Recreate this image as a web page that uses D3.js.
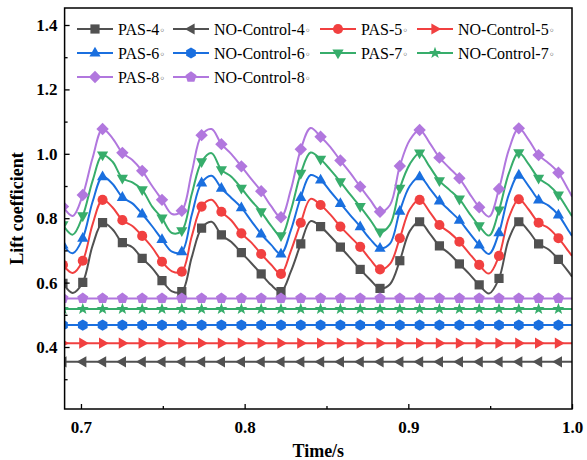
<!DOCTYPE html>
<html><head><meta charset="utf-8">
<script src="https://cdn.jsdelivr.net/npm/d3@7"></script>
<style>body{margin:0;background:#fff}</style>
</head><body>
<svg id="chart" width="587" height="460"></svg>
<script>
// ---------- data ----------
const time = [0.6890,0.6950,0.7011,0.7071,0.7132,0.7192,0.7253,0.7314,0.7374,0.7435,0.7495,0.7556,0.7616,0.7677,0.7737,0.7798,0.7858,0.7919,0.7980,0.8040,0.8101,0.8161,0.8222,0.8282,0.8343,0.8403,0.8464,0.8524,0.8585,0.8646,0.8706,0.8767,0.8827,0.8888,0.8948,0.9009,0.9069,0.9130,0.9190,0.9251,0.9312,0.9372,0.9433,0.9493,0.9554,0.9614,0.9675,0.9735,0.9796,0.9857,0.9917,0.9978,1.0000];
const pas4 = [0.598,0.568,0.601,0.715,0.786,0.766,0.724,0.710,0.675,0.645,0.606,0.573,0.572,0.679,0.769,0.789,0.748,0.726,0.693,0.661,0.627,0.593,0.572,0.634,0.720,0.791,0.774,0.744,0.710,0.676,0.641,0.609,0.582,0.595,0.668,0.760,0.789,0.753,0.714,0.690,0.658,0.627,0.593,0.566,0.613,0.735,0.789,0.760,0.720,0.703,0.672,0.634,0.618];
const pas5 = [0.655,0.630,0.668,0.781,0.857,0.834,0.794,0.776,0.745,0.709,0.665,0.635,0.634,0.744,0.836,0.857,0.820,0.793,0.753,0.725,0.689,0.656,0.627,0.698,0.786,0.860,0.841,0.811,0.774,0.742,0.711,0.672,0.641,0.658,0.738,0.827,0.857,0.820,0.779,0.756,0.727,0.691,0.655,0.628,0.683,0.802,0.859,0.827,0.786,0.769,0.738,0.698,0.683];
const pas6 = [0.717,0.691,0.738,0.851,0.929,0.907,0.865,0.846,0.813,0.775,0.734,0.696,0.696,0.811,0.910,0.932,0.893,0.863,0.833,0.792,0.751,0.718,0.689,0.762,0.865,0.934,0.919,0.883,0.846,0.809,0.774,0.735,0.707,0.721,0.822,0.900,0.929,0.893,0.854,0.824,0.794,0.755,0.717,0.689,0.755,0.873,0.934,0.900,0.857,0.839,0.810,0.762,0.745];
const pas7 = [0.779,0.749,0.807,0.916,0.996,0.976,0.924,0.911,0.888,0.836,0.800,0.754,0.761,0.875,0.975,1.002,0.950,0.929,0.893,0.855,0.820,0.777,0.745,0.824,0.939,1.004,0.983,0.950,0.913,0.873,0.836,0.795,0.757,0.780,0.893,0.968,1.002,0.960,0.916,0.888,0.859,0.816,0.776,0.746,0.825,0.939,1.003,0.968,0.924,0.903,0.872,0.824,0.806];
const pas8 = [0.836,0.807,0.872,0.987,1.077,1.049,1.003,0.981,0.947,0.900,0.857,0.813,0.823,0.943,1.058,1.077,1.030,0.999,0.961,0.922,0.884,0.838,0.803,0.888,1.014,1.080,1.053,1.021,0.979,0.940,0.898,0.857,0.820,0.841,0.962,1.043,1.074,1.034,0.988,0.956,0.924,0.878,0.834,0.805,0.891,1.012,1.079,1.043,0.996,0.971,0.941,0.888,0.867];
const noControlLevels = [0.354, 0.412, 0.468, 0.518, 0.551]; // 4°,5°,6°,7°,8°
const angles = ["4", "5", "6", "7", "8"];
const xTicks = [0.7, 0.8, 0.9, 1.0];
const xMinorTicks = [0.75, 0.85, 0.95];
const yTicks = [0.4, 0.6, 0.8, 1.0, 1.2, 1.4];
const yMinorTicks = [0.3, 0.5, 0.7, 0.9, 1.1, 1.3];
const xLabel = "Time/s";
const yLabel = "Lift coefficient";

// ---------- styling ----------
const colors = ["#515151", "#f14040", "#1a6fdf", "#37ad6b", "#b177de"];
const pasShapes = ["square", "circle", "triangleUp", "triangleDown", "diamond"];
const ncShapes = ["triangleLeft", "triangleRight", "hexagon", "star", "pentagon"];
const pasSeries = [pas4, pas5, pas6, pas7, pas8];

const W = 587, H = 460;
const L = 64.6, R = 572, T = 8, B = 409;
const serif = "'Liberation Serif','Times New Roman',serif";

const svg = d3.select("#chart");
const x = d3.scaleLinear().domain([0.69, 1.0]).range([L, R]);
const y = d3.scaleLinear().domain([0.2075, 1.4528]).range([B, T]);

function polyPath(pts){ return "M" + pts.map(p => p[0].toFixed(2) + "," + p[1].toFixed(2)).join("L") + "Z"; }
function regular(n, r, rot){
  const pts = [];
  for (let i = 0; i < n; i++){ const a = rot + i * 2 * Math.PI / n; pts.push([r * Math.cos(a), r * Math.sin(a)]); }
  return polyPath(pts);
}
function markerPath(type){
  switch(type){
    case "square": return polyPath([[-4.6,-4.6],[4.6,-4.6],[4.6,4.6],[-4.6,4.6]]);
    case "circle": return d3.symbol(d3.symbolCircle, 80)();
    case "triangleUp": return polyPath([[0,-6.2],[5.6,3.6],[-5.6,3.6]]);
    case "triangleDown": return polyPath([[0,6.2],[5.6,-3.6],[-5.6,-3.6]]);
    case "triangleLeft": return polyPath([[-6.2,0],[3.6,-5.6],[3.6,5.6]]);
    case "triangleRight": return polyPath([[6.2,0],[-3.6,-5.6],[-3.6,5.6]]);
    case "diamond": return polyPath([[0,-6.2],[6.2,0],[0,6.2],[-6.2,0]]);
    case "hexagon": return regular(6, 5.6, Math.PI / 6);
    case "pentagon": return regular(5, 5.8, -Math.PI / 2);
    case "star": {
      const pts = [];
      for (let i = 0; i < 10; i++){ const r = i % 2 ? 2.6 : 6.3; const a = -Math.PI/2 + i * Math.PI / 5; pts.push([r*Math.cos(a), r*Math.sin(a)]); }
      return polyPath(pts);
    }
  }
}

// clip
svg.append("defs").append("clipPath").attr("id", "clip")
  .append("rect").attr("x", L).attr("y", T).attr("width", R - L).attr("height", B - T);

const plot = svg.append("g").attr("clip-path", "url(#clip)");
const line = d3.line().x(d => x(d[0])).y(d => y(d[1])).curve(d3.curveCatmullRom.alpha(0.5));
const markerIdx = time.map((t, i) => i).filter(i => i % 2 === 0 && i < time.length - 1);

const seriesList = [];
angles.forEach((a, k) => {
  seriesList.push({name: "PAS-" + a, color: colors[k], shape: pasShapes[k], values: pasSeries[k]});
  seriesList.push({name: "NO-Control-" + a, color: colors[k], shape: ncShapes[k], values: time.map(() => noControlLevels[k])});
});

seriesList.forEach(s => {
  const pts = time.map((t, i) => [t, s.values[i]]);
  plot.append("path").attr("d", line(pts)).attr("fill", "none")
    .attr("stroke", s.color).attr("stroke-width", 2);
  const mp = markerPath(s.shape);
  plot.append("g").selectAll("path").data(markerIdx).join("path")
    .attr("d", mp).attr("fill", s.color)
    .attr("transform", i => `translate(${x(time[i])},${y(s.values[i])})`);
});

// axes
const xAxis = svg.append("g").attr("transform", `translate(0,${B})`)
  .call(d3.axisBottom(x).tickValues(xTicks).tickFormat(d3.format(".1f")).tickSize(-5).tickPadding(12));
const xMinor = svg.append("g").attr("transform", `translate(0,${B})`)
  .call(d3.axisBottom(x).tickValues(xMinorTicks).tickFormat("").tickSize(-3));
const yAxis = svg.append("g").attr("transform", `translate(${L},0)`)
  .call(d3.axisLeft(y).tickValues(yTicks).tickFormat(d3.format(".1f")).tickSize(-5).tickPadding(7));
const yMinor = svg.append("g").attr("transform", `translate(${L},0)`)
  .call(d3.axisLeft(y).tickValues(yMinorTicks).tickFormat("").tickSize(-3));
[xAxis, xMinor, yAxis, yMinor].forEach(g => {
  g.select(".domain").remove();
  g.selectAll("line").attr("stroke", "#000").attr("stroke-width", 1.3);
  g.selectAll("text").attr("font-family", serif).attr("font-weight", "bold").attr("font-size", 17).attr("fill", "#000");
});

// frame
svg.append("rect").attr("x", L).attr("y", T).attr("width", R - L).attr("height", B - T)
  .attr("fill", "none").attr("stroke", "#000").attr("stroke-width", 1.5);

// axis titles
svg.append("text").attr("x", (L + R) / 2).attr("y", 457).attr("text-anchor", "middle")
  .attr("font-family", serif).attr("font-weight", "bold").attr("font-size", 18).text(xLabel);
svg.append("text").attr("transform", `translate(23,${(T + B) / 2}) rotate(-90)`).attr("text-anchor", "middle")
  .attr("font-family", serif).attr("font-weight", "bold").attr("font-size", 18).text(yLabel);

// legend
const legCols = [77, 173, 320, 417];
const legRows = [29, 53, 77];
const leg = svg.append("g");
seriesList.forEach((s, i) => {
  const cx = legCols[i % 4], cy = legRows[Math.floor(i / 4)];
  const g = leg.append("g");
  g.append("line").attr("x1", cx).attr("x2", cx + 36).attr("y1", cy).attr("y2", cy)
    .attr("stroke", s.color).attr("stroke-width", 2);
  g.append("path").attr("d", markerPath(s.shape)).attr("fill", s.color)
    .attr("transform", `translate(${cx + 18},${cy})`);
  const t = g.append("text").attr("x", cx + 41).attr("y", cy + 5.5)
    .attr("font-family", serif).attr("font-size", 16).attr("fill", "#000");
  t.append("tspan").text(s.name);
  t.append("tspan").attr("font-size", 10).attr("font-family", "'DejaVu Sans',sans-serif").attr("dy", -1).text("◦");
});
</script>
</body></html>
